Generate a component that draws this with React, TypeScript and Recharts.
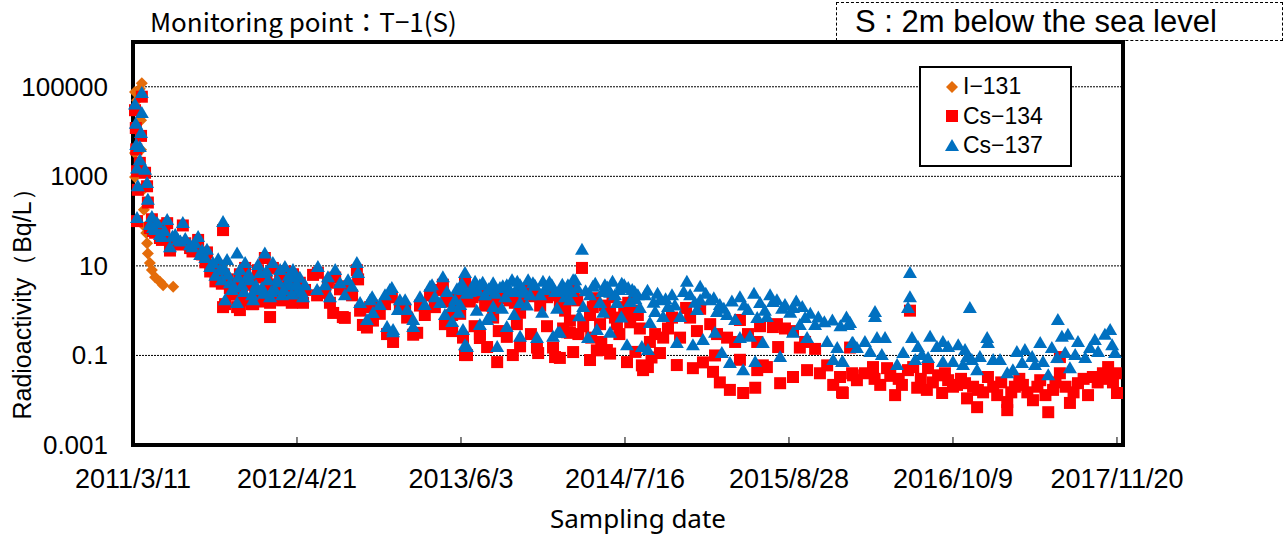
import React from 'react';
import { CartesianGrid, Legend, ReferenceArea, Scatter, ScatterChart, XAxis, YAxis } from 'recharts';

// days counted from 2011/3/11, values in Bq/L
const i131Points: [number, number][] = [
  [5, 970], [5, 3300], [5, 76000], [7, 12000], [10, 50000], [17, 90000], [22, 120000], [20, 18000],
  [20, 3900], [25, 500], [27, 180], [30, 74], [33, 54], [35, 32], [37, 19], [42, 11.6], [47, 8.1],
  [55, 5.6], [67, 4.4], [75, 3.7], [100, 3.4],
];

const cs134Points: [number, number][] = [
  [10, 100], [17, 2000], [22, 60000], [20, 8000], [30, 1200], [35, 600], [37, 260], [47, 110], [60, 80],
  [85, 90], [72, 38], [92, 22], [124, 80], [162, 38], [184, 20], [224, 63], [199, 9], [42, 70], [55, 55],
  [67, 42], [112, 32], [142, 25], [154, 27], [192, 7.5],
  [5, 30000], [7, 12000], [8, 4000], [10, 1300], [12, 500],
  [50, 60], [78, 50], [98, 38], [118, 30], [130, 32], [148, 21], [172, 18], [180, 12],
  [216, 7], [221, 4], [229, 1.4], [236, 5], [241, 3.2], [246, 2.3], [259, 1.2], [266, 6.5], [271, 3],
  [279, 9], [284, 4.5], [291, 3.8], [299, 1.4], [304, 2.3], [311, 8], [316, 5.5], [321, 2.5], [328, 15],
  [336, 3.8], [341, 1.5], [348, 9], [353, 2.3], [358, 3.8], [366, 6.5], [371, 1.7], [378, 7.5], [383, 3.2],
  [391, 2.9], [398, 6.5], [403, 4.5], [411, 2.2], [415, 4.2], [423, 1.5], [428, 2.9], [266, 1.03],
  [341, 0.72], [224, 1.2],
  [205, 4.5], [212, 10], [226, 6.5], [252, 2.3], [262, 3.8], [276, 1.7], [288, 4.5], [296, 1.4], [306, 2.6],
  [325, 1.6], [332, 5.5], [344, 1.8], [362, 3.0], [375, 1.9], [388, 4.2], [395, 1.5], [407, 2.8], [420, 1.7],
  [448, 6.3], [498, 0.89], [522, 0.72], [647, 0.2], [707, 0.32], [831, 0.102], [906, 0.071], [881, 0.154],
  [527, 0.69], [572, 0.48], [697, 0.29], [826, 0.102], [945, 0.102], [1008, 0.113], [1050, 0.092],
  [1087, 0.32], [863, 0.245], [764, 2.9],
  [460, 7], [485, 4.2], [515, 3], [535, 3.5], [557, 8], [560, 5], [458, 2.2], [490, 1.5], [565, 1.0],
  [590, 1.2], [597, 0.6], [632, 0.3], [639, 2], [664, 1.1], [682, 0.7], [714, 1.3], [739, 2.2], [771, 3.8],
  [794, 0.8], [826, 4.2], [821, 0.25], [896, 1.8], [644, 2], [744, 2.5], [595, 1.3], [821, 1.8], [863, 2.2],
  [930, 2.2], [963, 2.2], [995, 2.4], [1030, 2], [1062, 1.5], [1095, 2.8], [1117, 9], [582, 0.42],
  [794, 0.35], [863, 0.3], [930, 0.26], [963, 0.16], [1005, 0.15], [1045, 0.15], [814, 0.85], [896, 0.7],
  [963, 0.9], [838, 1.6], [876, 1.3], [913, 1.9], [950, 1.5], [983, 2.8], [1013, 1.3], [1042, 2.2],
  [1075, 1.2], [478, 2.5], [503, 5.5], [545, 2.2], [614, 0.85], [627, 1.4], [677, 1.1], [726, 0.8],
  [751, 1.2], [781, 1.6], [801, 1.0], [776, 0.5],
  [806, 1.8], [845, 2.0], [870, 2.6], [901, 1.5], [937, 1.7], [970, 1.9], [1000, 2.1], [1036, 2.4],
  [1068, 2.0], [1105, 1.7], [1150, 1.9], [1193, 2.0], [1232, 1.5], [850, 0.45], [910, 0.35], [955, 0.5],
  [990, 0.3], [1030, 0.45], [1070, 0.4], [1108, 0.3], [1140, 0.25], [1165, 0.2], [1210, 0.3], [1250, 0.12],
  [1290, 0.09],
  [1376, 1.15], [1510, 0.62], [1592, 0.43], [1080, 0.33], [1137, 0.079], [1229, 0.071], [1269, 0.047],
  [1281, 0.055], [1353, 0.061], [1393, 0.052], [1443, 0.043], [1460, 0.025], [1485, 0.017], [1518, 0.0145],
  [1548, 0.019], [1610, 0.024], [1642, 0.033], [1677, 0.047], [1709, 0.04], [1742, 0.022], [1764, 0.015],
  [1791, 0.036], [1553, 0.047], [1577, 0.055], [1311, 0.113], [1179, 0.132], [1095, 0.119], [1062, 0.088],
  [1605, 0.154],
  [1100, 1.8], [1144, 1.2], [1187, 0.9], [1222, 1.2], [1256, 0.8], [1087, 0.6], [1120, 0.45], [1162, 0.5],
  [1204, 0.5], [1237, 0.55], [1261, 0.4], [1299, 0.3], [1331, 0.4], [1411, 1.1], [1403, 0.35], [1361, 0.25],
  [1319, 0.25], [1286, 0.2], [1453, 0.3], [1478, 0.25], [1530, 0.3], [1560, 0.45], [1602, 0.5], [1642, 0.35],
  [1672, 0.2], [1553, 0.2], [1510, 0.08], [1567, 0.06], [1727, 0.06], [1784, 0.15], [1187, 0.11],
  [1154, 0.13], [1229, 0.9], [1266, 0.06], [1418, 0.07], [1448, 0.1], [1075, 1.0], [1137, 0.8], [1174, 1.3],
  [1199, 0.7], [1242, 1.0], [1341, 0.7], [1386, 0.7], [1436, 0.5], [1498, 0.2], [1622, 0.4], [1659, 0.15],
  [1697, 0.14],
  [1759, 0.033], [1766, 0.0145], [1789, 0.04], [1801, 0.028], [1821, 0.04], [1841, 0.055], [1859, 0.022],
  [1876, 0.052], [1896, 0.013], [1913, 0.022], [1928, 0.047], [1941, 0.055], [1951, 0.019], [1975, 0.017],
  [1978, 0.052], [2003, 0.036], [2013, 0.0145], [2028, 0.028], [2050, 0.022], [2070, 0.024], [2075, 0.011],
  [2100, 0.007], [2102, 0.017], [2127, 0.033], [2150, 0.013], [2175, 0.0091], [2175, 0.006], [2194, 0.02],
  [2214, 0.022], [2239, 0.01], [2257, 0.028], [2277, 0.0054], [2289, 0.017], [2306, 0.04], [2306, 0.092],
  [2331, 0.0087], [2351, 0.024], [2376, 0.013], [2388, 0.033], [2413, 0.04], [2426, 0.055], [2438, 0.025],
  [2448, 0.0145], [1933, 1.0],
  [1845, 0.03], [1884, 0.035], [1905, 0.03], [1960, 0.03], [1990, 0.025], [2020, 0.04], [2040, 0.02],
  [2060, 0.03], [2090, 0.02], [2115, 0.015], [2140, 0.02], [2160, 0.025], [2185, 0.015], [2205, 0.03],
  [2225, 0.015], [2250, 0.02], [2270, 0.013], [2295, 0.025], [2320, 0.02], [2340, 0.015], [2365, 0.03],
  [2400, 0.025], [2420, 0.03], [2445, 0.04],
];

const cs137Points: [number, number][] = [
  [10, 117], [17, 2300], [22, 73000], [22, 26000], [20, 9300], [17, 4500], [30, 1400], [35, 710], [37, 300],
  [47, 123], [60, 91], [85, 106], [72, 44], [92, 26], [124, 91], [162, 44], [184, 23], [224, 95], [199, 11.6],
  [42, 82], [55, 63], [67, 49], [105, 49], [112, 38], [142, 29], [154, 32], [192, 9.4], [167, 17.5],
  [5, 40000], [7, 15000], [8, 5000], [10, 1500], [12, 600],
  [50, 70], [78, 60], [98, 45], [118, 35], [130, 40], [148, 26], [172, 22], [180, 15],
  [259, 19], [234, 13.5], [279, 11.6], [328, 19], [348, 11.6], [378, 9.4], [398, 8.1], [229, 1.7],
  [259, 1.48], [299, 1.7], [341, 2.0], [423, 2.0], [241, 4.1], [284, 5.6], [316, 6.9], [358, 4.8], [383, 4.1],
  [216, 8.1], [221, 4.8], [236, 6.3], [246, 2.9], [266, 8.1], [271, 3.7], [291, 4.8], [304, 2.9], [311, 10.5],
  [321, 3.2], [336, 4.8], [353, 2.9], [366, 8.1], [371, 2.2], [391, 3.7], [403, 5.6], [411, 2.9], [415, 5.4],
  [428, 3.7],
  [205, 6], [212, 14], [226, 9], [252, 3.3], [262, 5.5], [276, 2.6], [288, 6.5], [296, 2.2], [306, 3.6],
  [325, 2.4], [332, 7.5], [344, 2.6], [362, 4.3], [375, 2.9], [388, 6.0], [395, 2.3], [407, 3.9], [420, 2.5],
  [460, 9.4], [485, 5.6], [515, 4.1], [535, 4.8], [557, 11.6], [560, 6.9], [458, 2.9], [490, 2.0], [565, 1.48],
  [590, 1.7], [597, 0.89], [632, 0.43], [647, 0.37], [639, 2.9], [664, 1.7], [682, 1.03], [714, 2.0],
  [697, 0.62], [739, 3.4], [771, 5.6], [764, 1.48], [794, 1.2], [826, 6.9], [821, 0.37], [831, 0.154],
  [881, 0.62], [896, 2.9], [644, 3.2], [744, 3.7], [595, 2.0], [821, 2.9], [863, 3.7], [896, 4.1], [930, 3.7],
  [963, 3.7], [995, 4.1], [1030, 3.4], [1062, 2.6], [1095, 4.8], [1117, 23], [582, 0.62], [647, 0.33],
  [697, 0.43], [794, 0.56], [826, 0.17], [863, 0.48], [906, 0.154], [930, 0.43], [963, 0.26], [1005, 0.245],
  [1045, 0.26], [1057, 0.32], [814, 1.34], [896, 1.2], [963, 1.48], [838, 2.6], [851, 4.4], [876, 2.2],
  [913, 3.2], [926, 2.0], [943, 4.8], [950, 2.6], [975, 2.5], [983, 4.8], [1013, 2.2], [1020, 4.4],
  [1042, 3.7], [1075, 2.0], [1082, 3.7], [478, 3.7], [503, 8.1], [527, 2.2], [545, 3.4], [614, 1.34],
  [627, 2.2], [659, 1.03], [677, 1.7], [726, 1.34], [751, 2.0], [781, 2.6], [801, 1.7], [776, 0.8],
  [806, 3.0], [818, 4.0], [830, 2.4], [845, 3.2], [858, 2.7], [870, 4.2], [885, 3.0], [901, 2.4], [920, 3.5],
  [937, 2.8], [956, 4.4], [970, 3.0], [988, 2.2], [1000, 3.6], [1024, 2.9], [1036, 4.3], [1050, 2.6],
  [1068, 3.8], [1090, 2.6], [1105, 3.2], [1126, 2.7], [1150, 4.0], [1168, 2.6], [1180, 3.3], [1193, 4.4],
  [1210, 2.9], [1216, 4.0], [1232, 3.2], [1248, 2.6],
  [810, 0.9], [855, 1.0], [890, 0.75], [918, 1.1], [948, 0.8], [980, 1.3], [1018, 0.9], [1055, 1.1],
  [1110, 0.75], [1170, 0.9], [1215, 0.7],
  [1100, 4.8], [1144, 3.4], [1187, 2.5], [1222, 3.7], [1256, 2.2], [1274, 2.2], [1087, 1.7], [1120, 1.2],
  [1162, 1.48], [1204, 1.48], [1237, 1.56], [1261, 1.15], [1299, 0.93], [1331, 1.2], [1378, 4.4], [1411, 3.4],
  [1411, 1.7], [1403, 1.03], [1361, 0.72], [1319, 0.72], [1286, 0.53], [1453, 0.93], [1478, 0.8], [1510, 2.0],
  [1530, 1.03], [1560, 1.48], [1592, 1.56], [1602, 1.7], [1642, 1.15], [1672, 0.69], [1577, 0.72],
  [1553, 0.69], [1510, 0.245], [1535, 0.26], [1567, 0.19], [1642, 0.32], [1677, 0.245], [1727, 0.2],
  [1752, 0.147], [1784, 0.53], [1791, 0.19], [1465, 0.113], [1485, 0.068], [1518, 0.047], [1548, 0.071],
  [1610, 0.092], [1742, 0.079], [1764, 0.071], [1062, 0.32], [1132, 0.245], [1229, 0.17], [1266, 0.154],
  [1281, 0.132], [1353, 0.19], [1393, 0.17], [1418, 0.22], [1448, 0.32], [1187, 0.32], [1154, 0.37],
  [1075, 2.9], [1137, 2.2], [1174, 3.7], [1199, 2.2], [1242, 2.9], [1311, 1.7], [1341, 2.2], [1386, 2.2],
  [1436, 1.7], [1460, 1.34], [1498, 0.62], [1622, 1.34], [1659, 0.48], [1697, 0.48],
  [1250, 1.8], [1280, 2.8], [1295, 1.5], [1305, 2.4], [1325, 1.8], [1348, 1.3], [1370, 2.6], [1398, 1.5],
  [1425, 2.4], [1445, 1.9], [1470, 1.1], [1490, 1.6], [1520, 1.3], [1545, 2.4], [1572, 1.0], [1585, 2.2],
  [1615, 1.1], [1635, 0.9], [1650, 1.6], [1665, 1.2], [1685, 0.85], [1705, 0.7], [1720, 0.55], [1740, 0.6],
  [1760, 0.45], [1775, 0.7],
  [1933, 6.9], [1933, 2.0], [1928, 1.15], [2082, 1.15], [1846, 0.93], [1846, 0.72], [1779, 0.48], [1789, 0.19],
  [1821, 0.2], [1801, 0.147], [1851, 0.245], [1871, 0.245], [1834, 0.119], [1863, 0.102], [1766, 0.071],
  [1901, 0.061], [1916, 0.113], [1938, 0.245], [1953, 0.154], [1963, 0.102], [1946, 0.079], [1978, 0.088],
  [1983, 0.26], [2000, 0.154], [2015, 0.2], [2028, 0.154], [2053, 0.17], [2070, 0.132], [2075, 0.092],
  [2015, 0.071], [2040, 0.071], [2065, 0.061], [2087, 0.079], [2100, 0.047], [2107, 0.092], [2125, 0.245],
  [2127, 0.19], [2140, 0.079], [2157, 0.079], [2175, 0.04], [2189, 0.047], [2199, 0.119], [2219, 0.132],
  [2212, 0.068], [2237, 0.092], [2244, 0.061], [2257, 0.19], [2264, 0.071], [2277, 0.036], [2286, 0.147],
  [2299, 0.088], [2301, 0.62], [2311, 0.26], [2326, 0.29], [2319, 0.113], [2331, 0.052], [2344, 0.102],
  [2351, 0.2], [2369, 0.088], [2381, 0.147], [2393, 0.22], [2401, 0.119], [2418, 0.29], [2431, 0.37],
  [2436, 0.17], [2443, 0.113],
];

const xTickDays = [0, 408, 816, 1224, 1632, 2040, 2448];
const xTickLabels = ['2011/3/11', '2012/4/21', '2013/6/3', '2014/7/16', '2015/8/28', '2016/10/9', '2017/11/20'];
const yTickValues = [0.001, 0.1, 10, 1000, 100000];
const yTickLabels = ['0.001', '0.1', '10', '1000', '100000'];

const seriesNames = ['I−131', 'Cs−134', 'Cs−137'];
const seriesColors = ['#E46C0A', '#FF0000', '#0070C0'];

const X_MAX = 2463;
const FONT = '"Liberation Sans", Arial, sans-serif';

const toPoints = (pts: [number, number][]) => pts.map(([day, value]) => ({ day, value }));

const Diamond = ({ cx, cy, fill }: any) => (
  <path d={`M${cx},${cy - 6}L${cx + 6},${cy}L${cx},${cy + 6}L${cx - 6},${cy}Z`} fill={fill} />
);
const Square = ({ cx, cy, fill }: any) => <rect x={cx - 6} y={cy - 6} width={12} height={12} fill={fill} />;
const Triangle = ({ cx, cy, fill }: any) => (
  <path d={`M${cx},${cy - 7}L${cx + 7},${cy + 5}L${cx - 7},${cy + 5}Z`} fill={fill} />
);
const markers = [Diamond, Square, Triangle];

const XTick = ({ x, y, payload }: any) => {
  const i = xTickDays.indexOf(payload.value);
  return (
    <g>
      <line x1={x} x2={x} y1={y} y2={y - 8} stroke="#000" strokeWidth={1} />
      <text x={x} y={y + 43} textAnchor="middle" fontSize={27} fontFamily={FONT} fill="#000">
        {xTickLabels[i]}
      </text>
    </g>
  );
};

const YTick = ({ x, y, payload }: any) => {
  const i = yTickValues.indexOf(payload.value);
  return (
    <text x={x - 25} y={y + 9} textAnchor="end" fontSize={26} fontFamily={FONT} fill="#000">
      {yTickLabels[i]}
    </text>
  );
};

const LegendBox = () => (
  <div
    style={{
      width: 149,
      height: 93,
      border: '2px solid #000',
      background: '#fff',
      boxSizing: 'content-box',
      paddingTop: 4,
    }}
  >
    {seriesNames.map((name, i) => {
      const M = markers[i];
      return (
        <div key={name} style={{ display: 'flex', alignItems: 'center', height: 29.5 }}>
          <svg width={40} height={20}>
            <M cx={31} cy={10} fill={seriesColors[i]} />
          </svg>
          <span style={{ fontFamily: FONT, fontSize: 23, marginLeft: 2, color: '#000' }}>{name}</span>
        </div>
      );
    })}
  </div>
);

export default function App() {
  return (
    <div style={{ position: 'absolute', left: 0, top: 0, width: 1287, height: 538, background: '#fff' }}>
      <ScatterChart width={1287} height={538} margin={{ top: 42, right: 164, bottom: 53, left: 8 }}>
        <CartesianGrid vertical={false} stroke="#000" strokeDasharray="2 1" strokeWidth={1} />
        <XAxis
          dataKey="day"
          type="number"
          domain={[0, X_MAX]}
          ticks={xTickDays}
          height={40}
          axisLine={false}
          tickLine={false}
          tickSize={0}
          tickMargin={0}
          tick={<XTick />}
          interval={0}
        />
        <YAxis
          dataKey="value"
          type="number"
          scale="log"
          domain={[0.001, 1000000]}
          allowDataOverflow
          ticks={yTickValues}
          width={125}
          axisLine={false}
          tickLine={false}
          tickSize={0}
          tickMargin={0}
          tick={<YTick />}
          interval={0}
        />
        <Scatter name={seriesNames[0]} data={toPoints(i131Points)} fill={seriesColors[0]} shape={Diamond} isAnimationActive={false} />
        <Scatter name={seriesNames[1]} data={toPoints(cs134Points)} fill={seriesColors[1]} shape={Square} isAnimationActive={false} />
        <Scatter name={seriesNames[2]} data={toPoints(cs137Points)} fill={seriesColors[2]} shape={Triangle} isAnimationActive={false} />
        <ReferenceArea x1={0} x2={X_MAX} y1={0.001} y2={1000000} fill="none" stroke="#000" strokeWidth={4} ifOverflow="visible" />
        <Legend
          layout="vertical"
          align="center"
          verticalAlign="middle"
          content={() => <LegendBox />}
          wrapperStyle={{ left: 919, top: 66, width: 153, height: 97 }}
        />
      </ScatterChart>

      <div style={{ position: 'absolute', left: 150, top: 5, fontFamily: '"Noto Sans CJK JP", sans-serif', fontSize: 26, lineHeight: '32px', color: '#000', whiteSpace: 'nowrap' }}>
        Monitoring point：T−1(S)
      </div>
      <div
        style={{
          position: 'absolute', left: 836, top: 2, width: 445, height: 37, border: '1px dashed #000',
          fontFamily: FONT, fontSize: 31, lineHeight: '37px', color: '#000', whiteSpace: 'nowrap', boxSizing: 'content-box',
        }}
      >
        <span style={{ marginLeft: 18 }}>S : 2m below the sea level</span>
      </div>
      <div
        style={{
          position: 'absolute', left: 22, top: 298, transform: 'translate(-50%, -50%) rotate(-90deg)',
          fontFamily: FONT, fontSize: 25, whiteSpace: 'nowrap', color: '#000',
        }}
      >
        Radioactivity（Bq/L）
      </div>
      <div
        style={{
          position: 'absolute', left: 638, top: 518, transform: 'translate(-50%, -50%)',
          fontFamily: '"Noto Sans", sans-serif', fontSize: 26, whiteSpace: 'nowrap', color: '#000',
        }}
      >
        Sampling date
      </div>
    </div>
  );
}
